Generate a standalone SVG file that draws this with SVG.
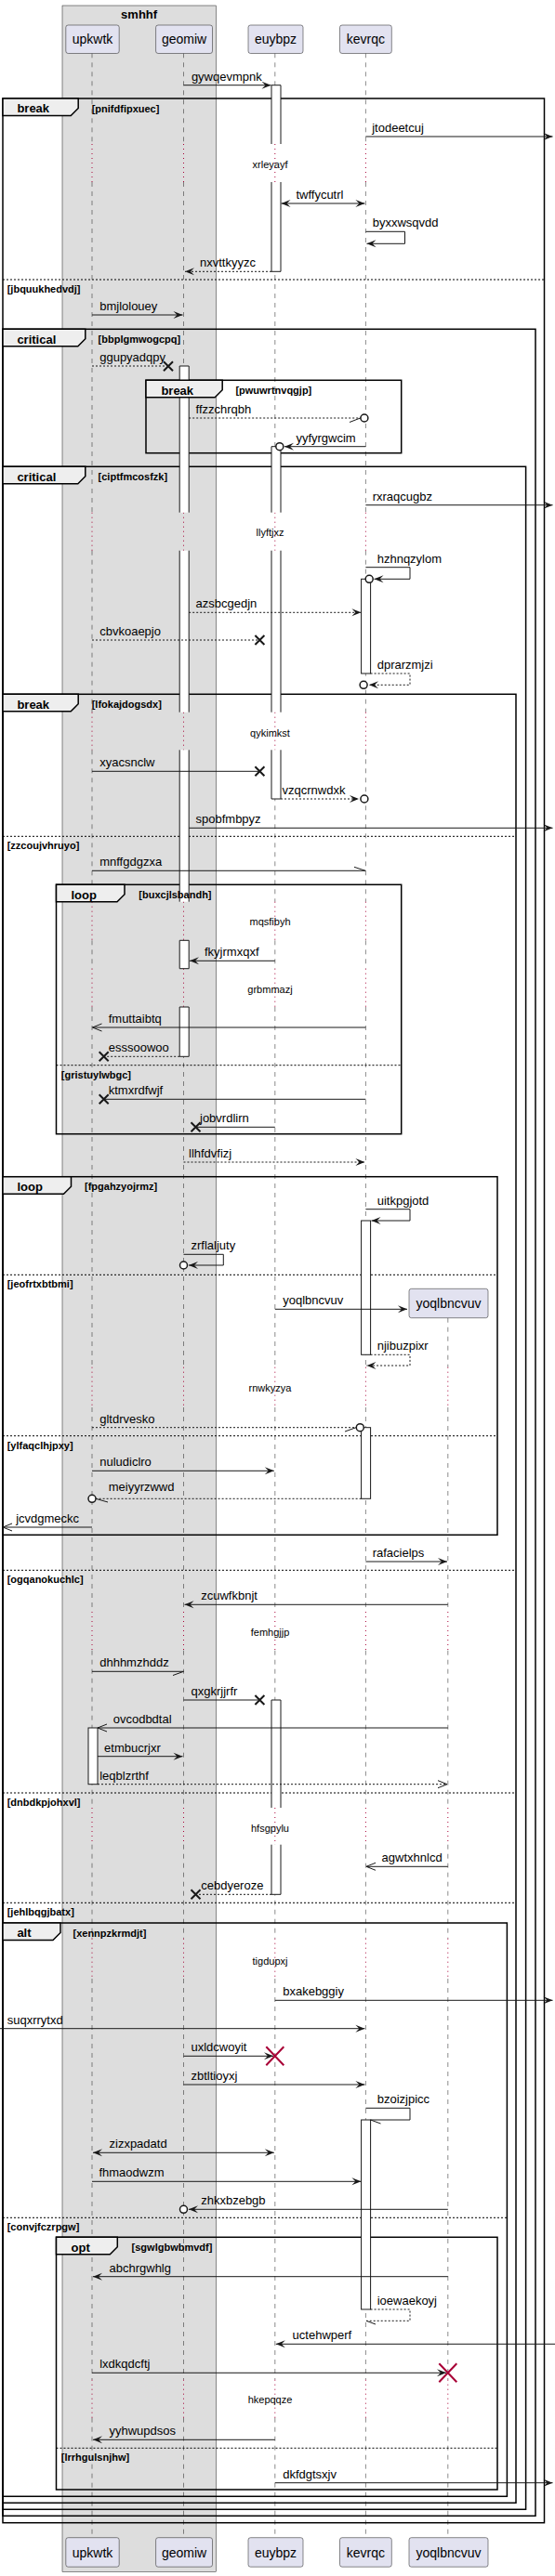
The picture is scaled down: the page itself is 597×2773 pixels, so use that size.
<svg xmlns="http://www.w3.org/2000/svg" xmlns:xlink="http://www.w3.org/1999/xlink" width="597" height="2773" viewBox="0 0 597 2773">
<style>
text{font-family:"Liberation Sans",Arial,sans-serif;fill:#000}
.t{font-size:13px}
.pt{font-size:14px}
.fl{font-size:13px;font-weight:bold}
.fc{font-size:11px;font-weight:bold}
.dt{font-size:11px}
.ll{stroke:#181818;stroke-width:0.5;stroke-dasharray:5,5;fill:none}
.dl{stroke:#A80036;stroke-width:1;stroke-dasharray:1,4;fill:none}
.act{fill:#fff;stroke:none}
.acto{fill:none;stroke:#181818;stroke-width:1}
.actr{fill:#fff;stroke:#181818;stroke-width:1}
.fr{fill:none;stroke:#000;stroke-width:1.5}
.tab{fill:#EEEEEE;stroke:#000;stroke-width:1.5}
.el{stroke:#000;stroke-width:1;stroke-dasharray:2,2;fill:none}
.m{stroke:#181818;stroke-width:1;fill:none}
.d{stroke-dasharray:2,2}
.x{stroke:#181818;stroke-width:2;fill:none}
.rx{stroke:#A80036;stroke-width:2;fill:none}
.c{fill:#fff;stroke:#181818;stroke-width:1.5}
.p{fill:#E2E2F0;stroke:#181818;stroke-width:0.5}
</style>
<defs>
<marker id="ah" viewBox="-11 -5 12 10" refX="0" refY="0" markerWidth="12" markerHeight="10" markerUnits="userSpaceOnUse" orient="auto"><path d="M-10,-4 L0,0 L-10,4 L-6,0 Z" fill="#181818"/></marker>
<marker id="ahs" viewBox="-11 -5 12 10" refX="0" refY="0" markerWidth="12" markerHeight="10" markerUnits="userSpaceOnUse" orient="auto-start-reverse"><path d="M-10,-4 L0,0 L-10,4 L-6,0 Z" fill="#181818"/></marker>
<marker id="oh" viewBox="-11 -5 12 10" refX="0" refY="0" markerWidth="12" markerHeight="10" markerUnits="userSpaceOnUse" orient="auto"><path d="M-10,-4 L0,0 L-10,4" fill="none" stroke="#181818" stroke-width="1"/></marker>
<path id="xm" d="M-5,-5 L5,5 M-5,5 L5,-5"/>
<path id="rxm" d="M-9.5,-10 L9.5,10 M-9.5,10 L9.5,-10"/>
</defs>

<g id="box-smhhf">
<rect x="67" y="6" width="165.3" height="2762.3" fill="#DDDDDD" stroke="#181818" stroke-width="0.5"/>
<text class="fl" x="149.6" y="20" text-anchor="middle">smhhf</text>
</g>

<g id="lifelines">
<path class="ll" d="M99,57.3 V155 M99,196 V551.7 M99,592.7 V766.7 M99,807.3 V970.7 M99,1012.3 V1042.7 M99,1084 V1471.7 M99,1515 V1735 M99,1776.7 V1946 M99,1985.7 V2086.7 M99,2130 V2561.7 M99,2602.7 V2731.7"/>
<path class="ll" d="M197.5,57.3 V155 M197.5,196 V551.7 M197.5,592.7 V766.7 M197.5,807.3 V970.7 M197.5,1012.3 V1042.7 M197.5,1084 V1471.7 M197.5,1515 V1735 M197.5,1776.7 V1946 M197.5,1985.7 V2086.7 M197.5,2130 V2561.7 M197.5,2602.7 V2731.7"/>
<path class="ll" d="M295.8,57.3 V155 M295.8,196 V551.7 M295.8,592.7 V766.7 M295.8,807.3 V970.7 M295.8,1012.3 V1042.7 M295.8,1084 V1471.7 M295.8,1515 V1735 M295.8,1776.7 V1946 M295.8,1985.7 V2086.7 M295.8,2130 V2561.7 M295.8,2602.7 V2731.7"/>
<path class="ll" d="M393.4,57.3 V155 M393.4,196 V551.7 M393.4,592.7 V766.7 M393.4,807.3 V970.7 M393.4,1012.3 V1042.7 M393.4,1084 V1471.7 M393.4,1515 V1735 M393.4,1776.7 V1946 M393.4,1985.7 V2086.7 M393.4,2130 V2561.7 M393.4,2602.7 V2731.7"/>
<path class="ll" d="M481.8,1418.7 V1471.7 M481.8,1515 V1735 M481.8,1776.7 V1946 M481.8,1985.7 V2086.7 M481.8,2130 V2561.7 M481.8,2602.7 V2731.7"/>
<path class="dl" d="M99,155 V196 M99,551.7 V592.7 M99,766.7 V807.3 M99,970.7 V1012.3 M99,1042.7 V1084 M99,1471.7 V1515 M99,1735 V1776.7 M99,1946 V1985.7 M99,2086.7 V2130 M99,2561.7 V2602.7"/>
<path class="dl" d="M197.5,155 V196 M197.5,551.7 V592.7 M197.5,766.7 V807.3 M197.5,970.7 V1012.3 M197.5,1042.7 V1084 M197.5,1471.7 V1515 M197.5,1735 V1776.7 M197.5,1946 V1985.7 M197.5,2086.7 V2130 M197.5,2561.7 V2602.7"/>
<path class="dl" d="M295.8,155 V196 M295.8,551.7 V592.7 M295.8,766.7 V807.3 M295.8,970.7 V1012.3 M295.8,1042.7 V1084 M295.8,1471.7 V1515 M295.8,1735 V1776.7 M295.8,1946 V1985.7 M295.8,2086.7 V2130 M295.8,2561.7 V2602.7"/>
<path class="dl" d="M393.4,155 V196 M393.4,551.7 V592.7 M393.4,766.7 V807.3 M393.4,970.7 V1012.3 M393.4,1042.7 V1084 M393.4,1471.7 V1515 M393.4,1735 V1776.7 M393.4,1946 V1985.7 M393.4,2086.7 V2130 M393.4,2561.7 V2602.7"/>
<path class="dl" d="M481.8,1471.7 V1515 M481.8,1735 V1776.7 M481.8,1946 V1985.7 M481.8,2086.7 V2130 M481.8,2561.7 V2602.7"/>
</g>

<g id="frames">
<rect class="fr" x="3" y="106" width="582.5" height="2609.7"/>
<rect class="fr" x="3" y="354.3" width="573" height="2354"/>
<rect class="fr" x="157" y="409.3" width="274.7" height="78.4"/>
<rect class="fr" x="3" y="502.3" width="562.6" height="2199"/>
<rect class="fr" x="3" y="747.3" width="552" height="1947"/>
<rect class="fr" x="60.5" y="952.3" width="371.2" height="268.4"/>
<rect class="fr" x="3" y="1266.7" width="532" height="385.6"/>
<rect class="fr" x="3" y="2070" width="542.4" height="617.3"/>
<rect class="fr" x="60.5" y="2408.3" width="474.5" height="271.7"/>
<path class="el" d="M3,301 H585.5 M3,900.3 H555 M3,1690.3 H555 M3,1930 H555 M3,2048.3 H555 M60.5,1146.7 H431.7 M3,1372.3 H535 M3,1545.7 H535 M3,2387.3 H545.4 M60.5,2635.3 H535"/>
<text class="fc" x="7.7" y="315">[jbquukhedvdj]</text>
<text class="fc" x="7.7" y="914.3">[zzcoujvhruyo]</text>
<text class="fc" x="7.7" y="1704.3">[ogqanokuchlc]</text>
<text class="fc" x="7.7" y="1944">[dnbdkpjohxvl]</text>
<text class="fc" x="7.7" y="2062.3">[jehlbqgjbatx]</text>
<text class="fc" x="65.8" y="1160.7">[gristuylwbgc]</text>
<text class="fc" x="7.7" y="1386.3">[jeofrtxbtbmi]</text>
<text class="fc" x="7.7" y="1559.7">[ylfaqclhjpxy]</text>
<text class="fc" x="7.7" y="2401.3">[convjfczrpgw]</text>
<text class="fc" x="65.8" y="2649.3">[lrrhgulsnjhw]</text>
</g>

<g id="activations">
<rect class="act" x="292" y="91.7" width="10" height="63.3"/><rect class="act" x="292" y="196" width="10" height="96.3"/>
<path class="acto" d="M292,155 V91.7 H302 V155 M292,196 V292.3 H302 V196"/>
<rect class="act" x="292" y="480.7" width="10" height="71"/><rect class="act" x="292" y="592.7" width="10" height="174"/><rect class="act" x="292" y="807.3" width="10" height="52.7"/>
<path class="acto" d="M292,551.7 V480.7 H302 V551.7 M292,592.7 V766.7 M302,592.7 V766.7 M292,807.3 V860 H302 V807.3"/>
<rect class="act" x="292" y="1830" width="10" height="116"/><rect class="act" x="292" y="1985.7" width="10" height="53.6"/>
<path class="acto" d="M292,1946 V1830 H302 V1946 M292,1985.7 V2039.3 H302 V1985.7"/>
<rect class="act" x="193.2" y="394" width="10" height="157.7"/><rect class="act" x="193.2" y="592.7" width="10" height="174"/><rect class="act" x="193.2" y="807.3" width="10" height="163.4"/><rect class="act" x="193.2" y="1012.3" width="10" height="30.4"/><rect class="act" x="193.2" y="1084" width="10" height="53.3"/>
<path class="acto" d="M193.2,551.7 V394 H203.2 V551.7 M193.2,592.7 V766.7 M203.2,592.7 V766.7 M193.2,807.3 V970.7 M203.2,807.3 V970.7 M193.2,1012.3 H203.2 V1042.7 H193.2 Z M193.2,1084 H203.2 V1137.3 H193.2 Z"/>
<rect class="actr" x="388.6" y="623.3" width="10" height="101.7"/>
<rect class="actr" x="388.6" y="1314" width="10" height="144.3"/>
<rect class="actr" x="388.6" y="1536.7" width="10" height="76.6"/>
<rect class="actr" x="388.6" y="2282" width="10" height="204"/>
<rect class="actr" x="95" y="1860" width="10" height="60.7"/>
</g>

<g id="frame-tabs">
<polygon class="tab" points="3,106 84.2,106 84.2,116.5 76.2,124.5 3,124.5"/>
<text class="fl" x="18.4" y="121.3">break</text><text class="fc" x="98.7" y="120.7">[pnifdfipxuec]</text>
<polygon class="tab" points="3,354.3 91.8,354.3 91.8,364.8 83.8,372.8 3,372.8"/>
<text class="fl" x="18.4" y="369.6">critical</text><text class="fc" x="105.6" y="369">[bbplgmwogcpq]</text>
<polygon class="tab" points="157,409.3 239.2,409.3 239.2,419.8 231.2,427.8 157,427.8"/>
<text class="fl" x="173.4" y="424.6">break</text><text class="fc" x="253.4" y="424">[pwuwrtnvqgjp]</text>
<polygon class="tab" points="3,502.3 91.8,502.3 91.8,512.8 83.8,520.8 3,520.8"/>
<text class="fl" x="18.4" y="517.6">critical</text><text class="fc" x="105.6" y="517">[ciptfmcosfzk]</text>
<polygon class="tab" points="3,747.3 84.2,747.3 84.2,757.8 76.2,765.8 3,765.8"/>
<text class="fl" x="18.4" y="762.6">break</text><text class="fc" x="98.7" y="762">[lfokajdogsdx]</text>
<polygon class="tab" points="60.5,952.3 134,952.3 134,962.8 126,970.8 60.5,970.8"/>
<text class="fl" x="76.5" y="967.6">loop</text><text class="fc" x="149.3" y="967">[buxcjlsbandh]</text>
<polygon class="tab" points="3,1266.7 76.5,1266.7 76.5,1277.2 68.5,1285.2 3,1285.2"/>
<text class="fl" x="18.4" y="1282">loop</text><text class="fc" x="91" y="1281.4">[fpgahzyojrmz]</text>
<polygon class="tab" points="3,2070 65,2070 65,2080.5 57,2088.5 3,2088.5"/>
<text class="fl" x="18.4" y="2085.3">alt</text><text class="fc" x="78.5" y="2084.7">[xennpzkrmdjt]</text>
<polygon class="tab" points="60.5,2408.3 126.3,2408.3 126.3,2418.8 118.3,2426.8 60.5,2426.8"/>
<text class="fl" x="76.5" y="2423.6">opt</text><text class="fc" x="141.6" y="2423">[sgwlgbwbmvdf]</text>
</g>

<g id="delays">
<text class="dt" x="290.5" y="180.7" text-anchor="middle">xrleyayf</text>
<text class="dt" x="290.5" y="577.3" text-anchor="middle">llyftjxz</text>
<text class="dt" x="290.5" y="792.7" text-anchor="middle">qykimkst</text>
<text class="dt" x="290.5" y="996.3" text-anchor="middle">mqsfibyh</text>
<text class="dt" x="290.5" y="1069" text-anchor="middle">grbmmazj</text>
<text class="dt" x="290.5" y="1498.3" text-anchor="middle">rnwkyzya</text>
<text class="dt" x="290.5" y="1761.3" text-anchor="middle">femhgjjp</text>
<text class="dt" x="290.5" y="1971.7" text-anchor="middle">hfsgpylu</text>
<text class="dt" x="290.5" y="2114.7" text-anchor="middle">tigdupxj</text>
<text class="dt" x="290.5" y="2587.3" text-anchor="middle">hkepqqze</text>
</g>

<g id="connectors">
<path class="m" d="M197.5,91.7 H291.5" marker-end="url(#ah)"/><text class="t" x="205.9" y="86.7">gywqevmpnk</text>
<path class="m" d="M393.4,147 H594.5" marker-end="url(#ah)"/><text class="t" x="400.2" y="142">jtodeetcuj</text>
<path class="m" d="M302.5,219 H392.4" marker-start="url(#ahs)" marker-end="url(#ah)"/><text class="t" x="318.4" y="214">twffycutrl</text>
<path class="m" d="M393.4,249.3 H435.5 V262.3 H394.5" marker-end="url(#ah)"/><text class="t" x="400.7" y="244.3">byxxwsqvdd</text>
<path class="m d" d="M292,292.3 H199" marker-end="url(#ah)"/><text class="t" x="215" y="287.3">nxvttkyyzc</text>
<path class="m" d="M99,339 H196.5" marker-end="url(#ah)"/><text class="t" x="107.2" y="334">bmjlolouey</text>
<path class="m d" d="M99,394 H180"/><use href="#xm" class="x" x="181" y="394.3"/><text class="t" x="107.2" y="389">ggupyadqpy</text>
<path class="m d" d="M203.2,450 H388"/><path class="m" d="M376,454.5 L387.6,450"/><circle class="c" cx="391.9" cy="450" r="4"/><text class="t" x="210.5" y="445">ffzzchrqbh</text>
<path class="m" d="M393.4,480.7 H306" marker-end="url(#ah)"/><circle class="c" cx="300.8" cy="480.7" r="4"/><text class="t" x="318.4" y="475.7">yyfyrgwcim</text>
<path class="m" d="M393.4,543.7 H594.5" marker-end="url(#ah)"/><text class="t" x="400.7" y="538.7">rxraqcugbz</text>
<path class="m" d="M393.4,610.7 H441 V623.3 H402.5" marker-end="url(#ah)"/><circle class="c" cx="397.2" cy="623.3" r="4"/><text class="t" x="405.7" y="605.7">hzhnqzylom</text>
<path class="m d" d="M203.2,659.3 H388.4" marker-end="url(#ah)"/><text class="t" x="210.5" y="654.3">azsbcgedjn</text>
<path class="m d" d="M99,689 H278.4"/><use href="#xm" class="x" x="279.4" y="689"/><text class="t" x="107.2" y="684">cbvkoaepjo</text>
<path class="m d" d="M398.6,725 H441 V737.3 H397" marker-end="url(#ah)"/><circle class="c" cx="391.1" cy="737.3" r="4"/><text class="t" x="405.7" y="720">dprarzmjzi</text>
<path class="m" d="M99,830.3 H278.4"/><use href="#xm" class="x" x="279.4" y="830.3"/><text class="t" x="107.2" y="825.3">xyacsnclw</text>
<path class="m d" d="M302,860 H386" marker-end="url(#ah)"/><circle class="c" cx="391.9" cy="860" r="4"/><text class="t" x="303.5" y="855">vzqcrnwdxk</text>
<path class="m" d="M203.2,891.3 H594.5" marker-end="url(#ah)"/><text class="t" x="210.5" y="886.3">spobfmbpyz</text>
<path class="m" d="M99,937.3 H393.4 M381,933.3 L393,937.3"/><text class="t" x="107.2" y="932.3">mnffgdgzxa</text>
<path class="m" d="M295.8,1034.3 H204" marker-end="url(#ah)"/><text class="t" x="220" y="1029.3">fkyjrmxqxf</text>
<path class="m" d="M393.4,1106 H99.5" marker-end="url(#oh)"/><text class="t" x="116.7" y="1101">fmuttaibtq</text>
<path class="m d" d="M193.2,1137.3 H112.7"/><use href="#xm" class="x" x="111.7" y="1137.3"/><text class="t" x="116.7" y="1132.3">esssoowoo</text>
<path class="m" d="M393.4,1183.3 H112.7"/><use href="#xm" class="x" x="111.7" y="1183.3"/><text class="t" x="116.7" y="1178.3">ktmxrdfwjf</text>
<path class="m" d="M295.8,1213.3 H211.5"/><use href="#xm" class="x" x="210.5" y="1213.3"/><text class="t" x="215" y="1208.3">jobvrdlirn</text>
<path class="m d" d="M197.5,1251 H392.4" marker-end="url(#ah)"/><text class="t" x="203" y="1246">llhfdvfizj</text>
<path class="m" d="M393.4,1301.7 H441 V1314 H399.5" marker-end="url(#ah)"/><text class="t" x="405.7" y="1296.7">uitkpgjotd</text>
<path class="m" d="M197.5,1350.3 H240.3 V1362 H203" marker-end="url(#ah)"/><circle class="c" cx="197.5" cy="1362" r="4"/><text class="t" x="205.5" y="1345.3">zrflaljuty</text>
<path class="m" d="M295.8,1409.3 H438" marker-end="url(#ah)"/><text class="t" x="304.2" y="1404.3">yoqlbncvuv</text>
<path class="m d" d="M398.6,1458.3 H441 V1470 H394.5" marker-end="url(#ah)"/><text class="t" x="405.7" y="1453.3">njibuzpixr</text>
<path class="m d" d="M99,1536.7 H383.3"/><path class="m" d="M371,1541 L383,1536.7"/><circle class="c" cx="387.3" cy="1536.7" r="4"/><text class="t" x="107.2" y="1531.7">gltdrvesko</text>
<path class="m" d="M99,1583.3 H294.8" marker-end="url(#ah)"/><text class="t" x="107.2" y="1578.3">nuludiclro</text>
<path class="m d" d="M388.6,1613.3 H103"/><path class="m" d="M103,1613.3 L116,1617"/><circle class="c" cx="99" cy="1613.3" r="4"/><text class="t" x="116.7" y="1605">meiyyrzwwd</text>
<path class="m" d="M99,1644 H3" marker-end="url(#oh)"/><text class="t" x="17.2" y="1639">jcvdgmeckc</text>
<path class="m" d="M393.4,1681 H481" marker-end="url(#ah)"/><text class="t" x="400.7" y="1676">rafacielps</text>
<path class="m" d="M481.8,1727.3 H198.5" marker-end="url(#ah)"/><text class="t" x="216.2" y="1722.3">zcuwfkbnjt</text>
<path class="m" d="M99,1799.3 H197.5 M186,1803.5 L197.5,1799.3"/><text class="t" x="107.2" y="1794.3">dhhhmzhddz</text>
<path class="m" d="M197.5,1830 H278.4"/><use href="#xm" class="x" x="279.4" y="1830"/><text class="t" x="205.5" y="1825">qxgkrjjrfr</text>
<path class="m" d="M481.8,1860 H105" marker-end="url(#oh)"/><text class="t" x="121.7" y="1855">ovcodbdtal</text>
<path class="m" d="M105,1890.7 H196.5" marker-end="url(#ah)"/><text class="t" x="112.1" y="1885.7">etmbucrjxr</text>
<path class="m d" d="M105,1920.7 H481" marker-end="url(#oh)"/><text class="t" x="107.2" y="1915.7">leqblzrthf</text>
<path class="m" d="M481.8,2009.3 H394" marker-end="url(#oh)"/><text class="t" x="410.6" y="2004.3">agwtxhnlcd</text>
<path class="m d" d="M292,2039.3 H211.5"/><use href="#xm" class="x" x="210.5" y="2039.3"/><text class="t" x="216.2" y="2034.3">cebdyeroze</text>
<path class="m" d="M295.8,2153.3 H594.5" marker-end="url(#ah)"/><text class="t" x="304.2" y="2148.3">bxakebggiy</text>
<path class="m" d="M0,2183.7 H392.4" marker-end="url(#ah)"/><text class="t" x="7.7" y="2178.7">suqxrrytxd</text>
<path class="m" d="M197.5,2213.3 H294" marker-end="url(#ah)"/><use href="#rxm" class="rx" x="295.8" y="2213.3"/><text class="t" x="205.5" y="2208.3">uxldcwoyit</text>
<path class="m" d="M197.5,2244 H392.4" marker-end="url(#ah)"/><text class="t" x="205.5" y="2239">zbtltioyxj</text>
<path class="m" d="M393.4,2269.3 H441 V2282 H398.6 M398.6,2282 L409.5,2286"/><text class="t" x="405.7" y="2264.3">bzoizjpicc</text>
<path class="m" d="M100,2317.3 H294.8" marker-start="url(#ahs)" marker-end="url(#ah)"/><text class="t" x="117.5" y="2312.3">zizxpadatd</text>
<path class="m" d="M99,2348.3 H388.4" marker-end="url(#ah)"/><text class="t" x="106.4" y="2343.3">fhmaodwzm</text>
<path class="m" d="M481.8,2378.3 H203" marker-end="url(#ah)"/><circle class="c" cx="197.5" cy="2378.3" r="4"/><text class="t" x="216.2" y="2373.3">zhkxbzebgb</text>
<path class="m" d="M481.8,2450.7 H100" marker-end="url(#ah)"/><text class="t" x="117.5" y="2445.7">abchrgwhlg</text>
<path class="m d" d="M398.6,2486 H441 V2498.3 H394"/><path class="m" d="M394,2498.3 L404,2502"/><text class="t" x="405.7" y="2481">ioewaekoyj</text>
<path class="m" d="M597,2523.3 H296.8" marker-end="url(#ah)"/><text class="t" x="314.6" y="2518.3">uctehwperf</text>
<path class="m" d="M99,2554.3 H480" marker-end="url(#ah)"/><use href="#rxm" class="rx" x="481.8" y="2554.3"/><text class="t" x="107.2" y="2549.3">lxdkqdcftj</text>
<path class="m" d="M295.8,2626.3 H100" marker-end="url(#ah)"/><text class="t" x="117.5" y="2621.3">yyhwupdsos</text>
<path class="m" d="M295.8,2672.7 H594.5" marker-end="url(#ah)"/><text class="t" x="304.2" y="2667.7">dkfdgtsxjv</text>
</g>

<g id="upkwtk">
<rect class="p" x="70.8" y="27" width="57.4" height="30.5" rx="2.5"/><text class="pt" x="99.5" y="47.3" text-anchor="middle">upkwtk</text>
<rect class="p" x="70.8" y="2731.7" width="57.4" height="31.5" rx="2.5"/><text class="pt" x="99.5" y="2752.5" text-anchor="middle">upkwtk</text>
</g>
<g id="geomiw">
<rect class="p" x="167.6" y="27" width="60.9" height="30.5" rx="2.5"/><text class="pt" x="198" y="47.3" text-anchor="middle">geomiw</text>
<rect class="p" x="167.6" y="2731.7" width="60.9" height="31.5" rx="2.5"/><text class="pt" x="198" y="2752.5" text-anchor="middle">geomiw</text>
</g>
<g id="euybpz">
<rect class="p" x="267" y="27" width="59" height="30.5" rx="2.5"/><text class="pt" x="296.5" y="47.3" text-anchor="middle">euybpz</text>
<rect class="p" x="267" y="2731.7" width="59" height="31.5" rx="2.5"/><text class="pt" x="296.5" y="2752.5" text-anchor="middle">euybpz</text>
</g>
<g id="kevrqc">
<rect class="p" x="365.5" y="27" width="55.8" height="30.5" rx="2.5"/><text class="pt" x="393.4" y="47.3" text-anchor="middle">kevrqc</text>
<rect class="p" x="365.5" y="2731.7" width="55.8" height="31.5" rx="2.5"/><text class="pt" x="393.4" y="2752.5" text-anchor="middle">kevrqc</text>
</g>
<g id="yoqlbncvuv">
<rect class="p" x="440" y="1387.3" width="85" height="31.4" rx="2.5"/><text class="pt" x="482.5" y="1408" text-anchor="middle">yoqlbncvuv</text>
<rect class="p" x="440" y="2731.7" width="85" height="31.5" rx="2.5"/><text class="pt" x="482.5" y="2752.5" text-anchor="middle">yoqlbncvuv</text>
</g>
</svg>
